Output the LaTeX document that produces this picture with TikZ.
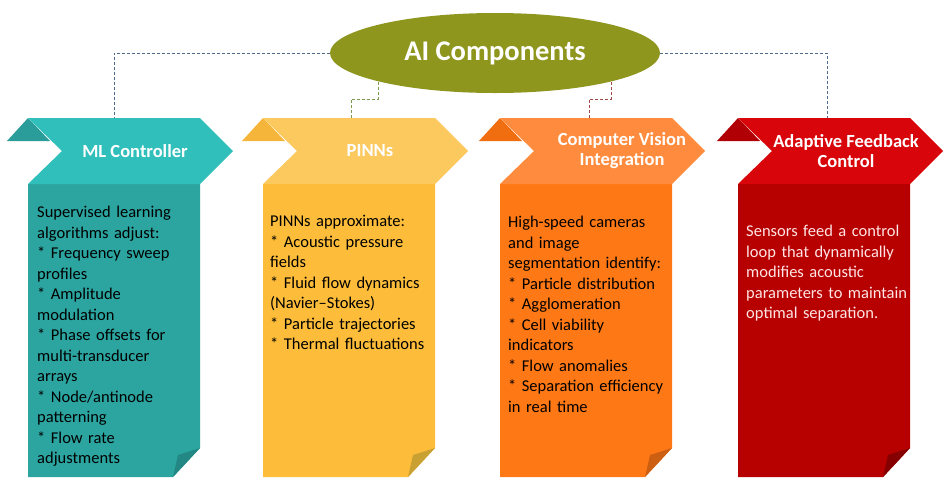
\documentclass[tikz,border=0pt]{standalone}
\usepackage{fontspec}
\setmainfont{Carlito}
\usetikzlibrary{shapes.geometric}
\definecolor{tA}{HTML}{31BFBC}\definecolor{bA}{HTML}{2CA5A1}\definecolor{dA}{HTML}{2A9C99}\definecolor{fA}{HTML}{238783}
\definecolor{tB}{HTML}{FBC95E}\definecolor{bB}{HTML}{FDBD3B}\definecolor{dB}{HTML}{F5B53A}\definecolor{fB}{HTML}{C9A032}
\definecolor{tC}{HTML}{FF8C3E}\definecolor{bC}{HTML}{FF7816}\definecolor{dC}{HTML}{F06E10}\definecolor{fC}{HTML}{CC5F12}
\definecolor{tD}{HTML}{D8060B}\definecolor{bD}{HTML}{B70000}\definecolor{dD}{HTML}{B00005}\definecolor{fD}{HTML}{850000}
\definecolor{olive}{HTML}{8E961E}
\definecolor{lnA}{HTML}{4F6A8A}\definecolor{lnB}{HTML}{7A9A50}\definecolor{lnC}{HTML}{A04848}
\newcommand{\nl}{\\{}}
\tikzset{
 title/.style={text=white,font=\fontsize{18.5}{21}\selectfont\bfseries,align=center},
 body/.style={anchor=north west,text width=160pt,align=left,inner sep=0pt,font=\fontsize{16.5}{20.5}\selectfont},
 conn/.style={densely dashed,line width=0.8pt}
}
\newcommand{\column}[5]{%
 \begin{scope}[shift={(#1,0)}]
  \fill[#4] (-21,141) -- (0,118) -- (22,141) -- cycle;
  \fill[#3] (0,184) -- (172,184) -- (172,448) -- (145,477) -- (0,477) -- cycle;
  \fill[#5] (172,448) -- (145,477) -- (150,455) -- cycle;
  \fill[#2] (0,118) -- (172,118) -- (205,151) -- (172,184) -- (0,184) -- (34,151) -- cycle;
 \end{scope}}
\begin{document}
\hyphenpenalty=10000 \exhyphenpenalty=10000
\begin{tikzpicture}[x=1pt,y=-1pt]
\useasboundingbox (0,0) rectangle (949,483);
\column{28}{tA}{bA}{dA}{fA}
\column{263}{tB}{bB}{dB}{fB}
\column{500}{tC}{bC}{dC}{fC}
\column{738}{tD}{bD}{dD}{fD}
\node[ellipse,fill=olive,minimum width=330pt,minimum height=80pt,inner sep=0pt,text=white,font=\fontsize{28.5}{32}\selectfont\bfseries] (ai) at (495,53) {AI Components};
\coordinate (c1) at (114,118);\coordinate (c2) at (351,118);
\coordinate (c3) at (589,118);\coordinate (c4) at (827,118);
\draw[conn,lnA] (ai.west) -| (c1);
\draw[conn,lnA] (ai.east) -| (c4);
\draw[conn,lnB] (378,82) -- (378,99) -- (351,99) -- (c2);
\draw[conn,lnC] (611,82) -- (611,99) -- (589,99) -- (c3);
\node[title] (h1) at (135,151) {ML Controller};
\node[title] (h2) at (370,151) {PINNs};
\node[title] (h3) at (622,151) {Computer Vision\\[-1pt]Integration};
\node[title] (h4) at (846,151) {Adaptive Feedback\\[-1pt]Control};
\node[body,text width=152pt] (t1) at (37,206) {Supervised learning algorithms adjust:\nl * Frequency sweep profiles\nl * Amplitude modulation\nl * Phase offsets for multi-transducer arrays\nl * Node/antinode patterning\nl * Flow rate adjustments};
\node[body] (t2) at (270,215) {PINNs approximate:\nl * Acoustic pressure fields\nl * Fluid flow dynamics (Navier–Stokes)\nl * Particle trajectories\nl * Thermal fluctuations};
\node[body,text width=166pt] (t3) at (508,216) {High-speed cameras\nl and image\nl segmentation identify:\nl * Particle distribution\nl * Agglomeration\nl * Cell viability indicators\nl * Flow anomalies\nl * Separation efficiency in real time};
\node[body,text width=172pt,text=white!90!red] (t4) at (746,225) {Sensors feed a control loop that dynamically modifies acoustic parameters to maintain optimal separation.};
\end{tikzpicture}
\end{document}
